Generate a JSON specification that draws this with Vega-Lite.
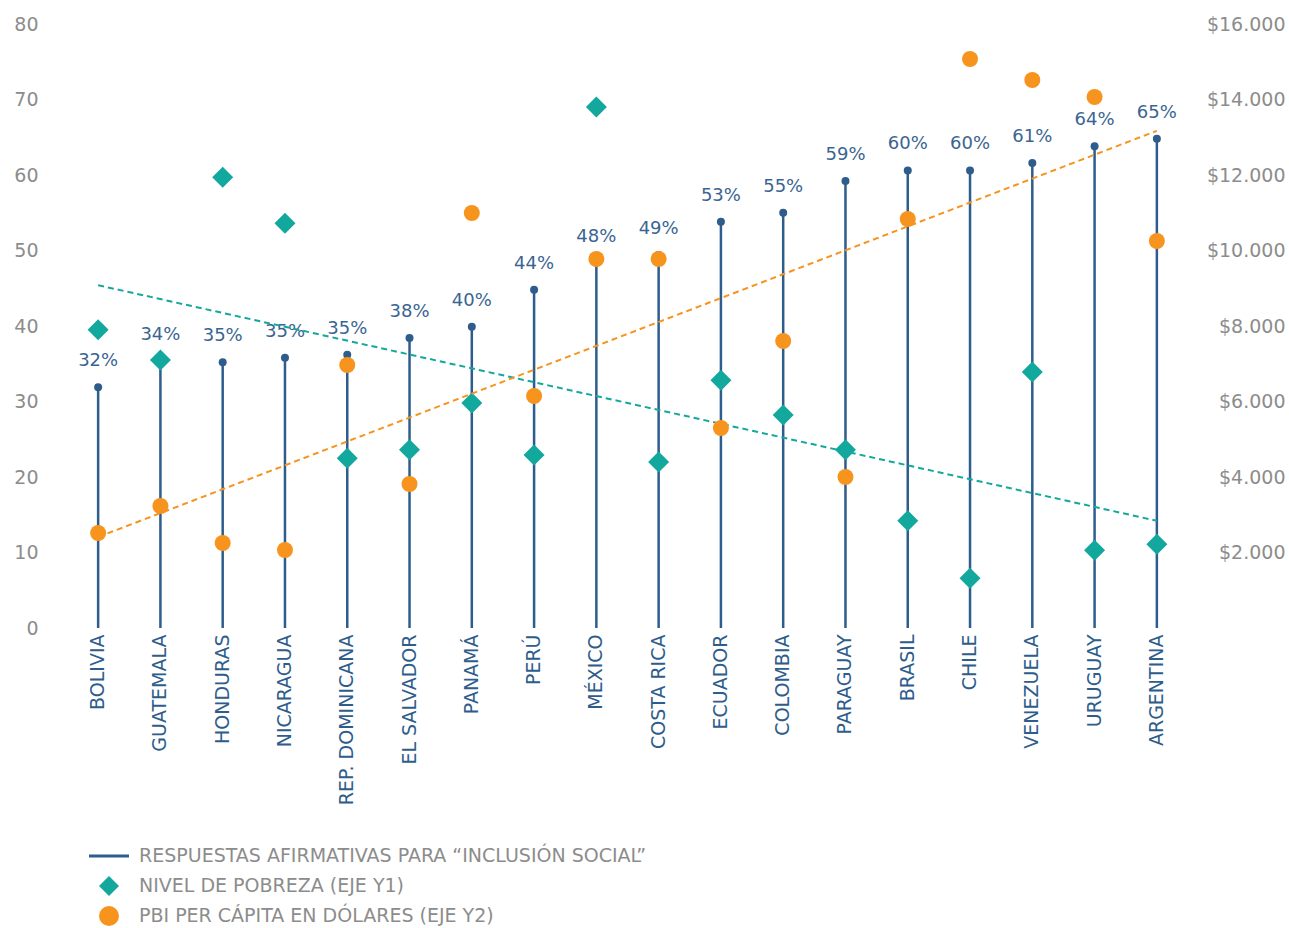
{
  "$schema": "https://vega.github.io/schema/vega-lite/v6.json",
  "width": 1121,
  "height": 604,
  "autosize": {"type": "none"},
  "padding": {"left": 67, "top": 24, "right": 101, "bottom": 300},
  "config": {
    "view": {"stroke": null},
    "font": "DejaVu Sans",
    "locale": {"number": {"decimal": ",", "thousands": ".", "grouping": [3], "currency": ["$", ""]}},
    "axis": {"domain": false, "ticks": false, "grid": false, "labelFontSize": 19, "labelColor": "#8c8c8c", "labelFont": "DejaVu Sans"}
  },
  "datasets": {
    "inclusion": [
      {"pais": "BOLIVIA", "valor": 31.9, "etiqueta": "32%"},
      {"pais": "GUATEMALA", "valor": 35.3, "etiqueta": "34%"},
      {"pais": "HONDURAS", "valor": 35.2, "etiqueta": "35%"},
      {"pais": "NICARAGUA", "valor": 35.8, "etiqueta": "35%"},
      {"pais": "REP. DOMINICANA", "valor": 36.2, "etiqueta": "35%"},
      {"pais": "EL SALVADOR", "valor": 38.4, "etiqueta": "38%"},
      {"pais": "PANAMÁ", "valor": 39.9, "etiqueta": "40%"},
      {"pais": "PERÚ", "valor": 44.8, "etiqueta": "44%"},
      {"pais": "MÉXICO", "valor": 48.4, "etiqueta": "48%"},
      {"pais": "COSTA RICA", "valor": 49.4, "etiqueta": "49%"},
      {"pais": "ECUADOR", "valor": 53.8, "etiqueta": "53%"},
      {"pais": "COLOMBIA", "valor": 55.0, "etiqueta": "55%"},
      {"pais": "PARAGUAY", "valor": 59.2, "etiqueta": "59%"},
      {"pais": "BRASIL", "valor": 60.6, "etiqueta": "60%"},
      {"pais": "CHILE", "valor": 60.6, "etiqueta": "60%"},
      {"pais": "VENEZUELA", "valor": 61.6, "etiqueta": "61%"},
      {"pais": "URUGUAY", "valor": 63.8, "etiqueta": "64%"},
      {"pais": "ARGENTINA", "valor": 64.8, "etiqueta": "65%"}
    ],
    "pobreza": [
      {"pais": "BOLIVIA", "serie": "NIVEL DE POBREZA (EJE Y1)", "valor": 39.5},
      {"pais": "GUATEMALA", "serie": "NIVEL DE POBREZA (EJE Y1)", "valor": 35.5},
      {"pais": "HONDURAS", "serie": "NIVEL DE POBREZA (EJE Y1)", "valor": 59.7},
      {"pais": "NICARAGUA", "serie": "NIVEL DE POBREZA (EJE Y1)", "valor": 53.6},
      {"pais": "REP. DOMINICANA", "serie": "NIVEL DE POBREZA (EJE Y1)", "valor": 22.5},
      {"pais": "EL SALVADOR", "serie": "NIVEL DE POBREZA (EJE Y1)", "valor": 23.6},
      {"pais": "PANAMÁ", "serie": "NIVEL DE POBREZA (EJE Y1)", "valor": 29.8},
      {"pais": "PERÚ", "serie": "NIVEL DE POBREZA (EJE Y1)", "valor": 22.9},
      {"pais": "MÉXICO", "serie": "NIVEL DE POBREZA (EJE Y1)", "valor": 69.0},
      {"pais": "COSTA RICA", "serie": "NIVEL DE POBREZA (EJE Y1)", "valor": 22.0},
      {"pais": "ECUADOR", "serie": "NIVEL DE POBREZA (EJE Y1)", "valor": 32.8},
      {"pais": "COLOMBIA", "serie": "NIVEL DE POBREZA (EJE Y1)", "valor": 28.2},
      {"pais": "PARAGUAY", "serie": "NIVEL DE POBREZA (EJE Y1)", "valor": 23.6},
      {"pais": "BRASIL", "serie": "NIVEL DE POBREZA (EJE Y1)", "valor": 14.2},
      {"pais": "CHILE", "serie": "NIVEL DE POBREZA (EJE Y1)", "valor": 6.6},
      {"pais": "VENEZUELA", "serie": "NIVEL DE POBREZA (EJE Y1)", "valor": 33.9},
      {"pais": "URUGUAY", "serie": "NIVEL DE POBREZA (EJE Y1)", "valor": 10.3},
      {"pais": "ARGENTINA", "serie": "NIVEL DE POBREZA (EJE Y1)", "valor": 11.1}
    ],
    "pbi": [
      {"pais": "BOLIVIA", "serie": "PBI PER CÁPITA EN DÓLARES (EJE Y2)", "valor": 2517},
      {"pais": "GUATEMALA", "serie": "PBI PER CÁPITA EN DÓLARES (EJE Y2)", "valor": 3232},
      {"pais": "HONDURAS", "serie": "PBI PER CÁPITA EN DÓLARES (EJE Y2)", "valor": 2252},
      {"pais": "NICARAGUA", "serie": "PBI PER CÁPITA EN DÓLARES (EJE Y2)", "valor": 2066},
      {"pais": "REP. DOMINICANA", "serie": "PBI PER CÁPITA EN DÓLARES (EJE Y2)", "valor": 6967},
      {"pais": "EL SALVADOR", "serie": "PBI PER CÁPITA EN DÓLARES (EJE Y2)", "valor": 3815},
      {"pais": "PANAMÁ", "serie": "PBI PER CÁPITA EN DÓLARES (EJE Y2)", "valor": 10993},
      {"pais": "PERÚ", "serie": "PBI PER CÁPITA EN DÓLARES (EJE Y2)", "valor": 6146},
      {"pais": "MÉXICO", "serie": "PBI PER CÁPITA EN DÓLARES (EJE Y2)", "valor": 9775},
      {"pais": "COSTA RICA", "serie": "PBI PER CÁPITA EN DÓLARES (EJE Y2)", "valor": 9775},
      {"pais": "ECUADOR", "serie": "PBI PER CÁPITA EN DÓLARES (EJE Y2)", "valor": 5298},
      {"pais": "COLOMBIA", "serie": "PBI PER CÁPITA EN DÓLARES (EJE Y2)", "valor": 7603},
      {"pais": "PARAGUAY", "serie": "PBI PER CÁPITA EN DÓLARES (EJE Y2)", "valor": 4000},
      {"pais": "BRASIL", "serie": "PBI PER CÁPITA EN DÓLARES (EJE Y2)", "valor": 10834},
      {"pais": "CHILE", "serie": "PBI PER CÁPITA EN DÓLARES (EJE Y2)", "valor": 15073},
      {"pais": "VENEZUELA", "serie": "PBI PER CÁPITA EN DÓLARES (EJE Y2)", "valor": 14517},
      {"pais": "URUGUAY", "serie": "PBI PER CÁPITA EN DÓLARES (EJE Y2)", "valor": 14066},
      {"pais": "ARGENTINA", "serie": "PBI PER CÁPITA EN DÓLARES (EJE Y2)", "valor": 10252}
    ],
    "tend_pobreza": [
      {"pais": "BOLIVIA", "valor": 45.4},
      {"pais": "ARGENTINA", "valor": 14.2}
    ],
    "tend_pbi": [
      {"pais": "BOLIVIA", "valor": 2410},
      {"pais": "ARGENTINA", "valor": 13170}
    ]
  },
  "layer": [
    {
      "layer": [
        {
          "data": {"name": "inclusion"},
          "mark": {"type": "rule", "color": "#2e5d8c", "strokeWidth": 2.5},
          "encoding": {
            "x": {
              "field": "pais", "type": "nominal", "title": null,
              "scale": {"domain": ["BOLIVIA", "GUATEMALA", "HONDURAS", "NICARAGUA", "REP. DOMINICANA", "EL SALVADOR", "PANAMÁ", "PERÚ", "MÉXICO", "COSTA RICA", "ECUADOR", "COLOMBIA", "PARAGUAY", "BRASIL", "CHILE", "VENEZUELA", "URUGUAY", "ARGENTINA"]},
              "axis": {"labelAngle": -90, "labelColor": "#2e5d8c", "labelPadding": 6, "labelFontSize": 19, "labelLimit": 300}
            },
            "y": {
              "field": "valor", "type": "quantitative", "title": null,
              "scale": {"domain": [0, 80], "nice": false},
              "axis": {"orient": "left", "values": [0, 10, 20, 30, 40, 50, 60, 70, 80], "labelPadding": 29}
            },
            "y2": {"datum": 0}
          }
        },
        {
          "data": {"name": "inclusion"},
          "mark": {"type": "point", "filled": true, "color": "#2e5d8c", "size": 64, "opacity": 1},
          "encoding": {
            "x": {"field": "pais", "type": "nominal", "title": null},
            "y": {"field": "valor", "type": "quantitative", "title": null}
          }
        },
        {
          "data": {"name": "inclusion"},
          "mark": {"type": "text", "color": "#3a6591", "fontSize": 18, "dy": -26, "baseline": "middle", "align": "center"},
          "encoding": {
            "x": {"field": "pais", "type": "nominal", "title": null},
            "y": {"field": "valor", "type": "quantitative", "title": null},
            "text": {"field": "etiqueta", "type": "nominal"}
          }
        },
        {
          "data": {"name": "tend_pobreza"},
          "mark": {"type": "line", "color": "#13a89e", "strokeWidth": 2, "strokeDash": [6, 4]},
          "encoding": {
            "x": {"field": "pais", "type": "nominal", "title": null},
            "y": {"field": "valor", "type": "quantitative", "title": null}
          }
        },
        {
          "data": {"name": "pobreza"},
          "mark": {"type": "point", "filled": true, "size": 441, "opacity": 1},
          "encoding": {
            "x": {"field": "pais", "type": "nominal", "title": null},
            "y": {"field": "valor", "type": "quantitative", "title": null},
            "color": {
              "field": "serie", "type": "nominal",
              "scale": {"domain": ["RESPUESTAS AFIRMATIVAS PARA “INCLUSIÓN SOCIAL”", "NIVEL DE POBREZA (EJE Y1)", "PBI PER CÁPITA EN DÓLARES (EJE Y2)"], "range": ["#2e5d8c", "#13a89e", "#f7941d"]},
              "legend": {
                "title": null, "orient": "none", "legendX": 31, "legendY": 821, "padding": 0,
                "labelFontSize": 19, "labelColor": "#8c8c8c", "labelLimit": 900, "labelOffset": 19,
                "symbolSize": 400, "rowPadding": 9, "symbolOpacity": 1
              }
            },
            "shape": {
              "field": "serie", "type": "nominal",
              "scale": {"domain": ["RESPUESTAS AFIRMATIVAS PARA “INCLUSIÓN SOCIAL”", "NIVEL DE POBREZA (EJE Y1)", "PBI PER CÁPITA EN DÓLARES (EJE Y2)"], "range": ["M-2,-0.15H2V0.15H-2Z", "diamond", "circle"]},
              "legend": {"title": null}
            }
          }
        }
      ]
    },
    {
      "layer": [
        {
          "data": {"name": "tend_pbi"},
          "mark": {"type": "line", "color": "#f7941d", "strokeWidth": 2, "strokeDash": [6, 4]},
          "encoding": {
            "x": {"field": "pais", "type": "nominal", "title": null},
            "y": {
              "field": "valor", "type": "quantitative", "title": null,
              "scale": {"domain": [0, 16000], "nice": false},
              "axis": {"orient": "right", "values": [2000, 4000, 6000, 8000, 10000, 12000, 14000, 16000], "format": "$,.0f", "labelAlign": "right", "labelPadding": 97}
            }
          }
        },
        {
          "data": {"name": "pbi"},
          "mark": {"type": "point", "filled": true, "size": 256, "opacity": 1},
          "encoding": {
            "x": {"field": "pais", "type": "nominal", "title": null},
            "y": {"field": "valor", "type": "quantitative", "title": null},
            "color": {"field": "serie", "type": "nominal"},
            "shape": {"field": "serie", "type": "nominal"}
          }
        }
      ]
    }
  ],
  "resolve": {"scale": {"y": "independent"}}
}
